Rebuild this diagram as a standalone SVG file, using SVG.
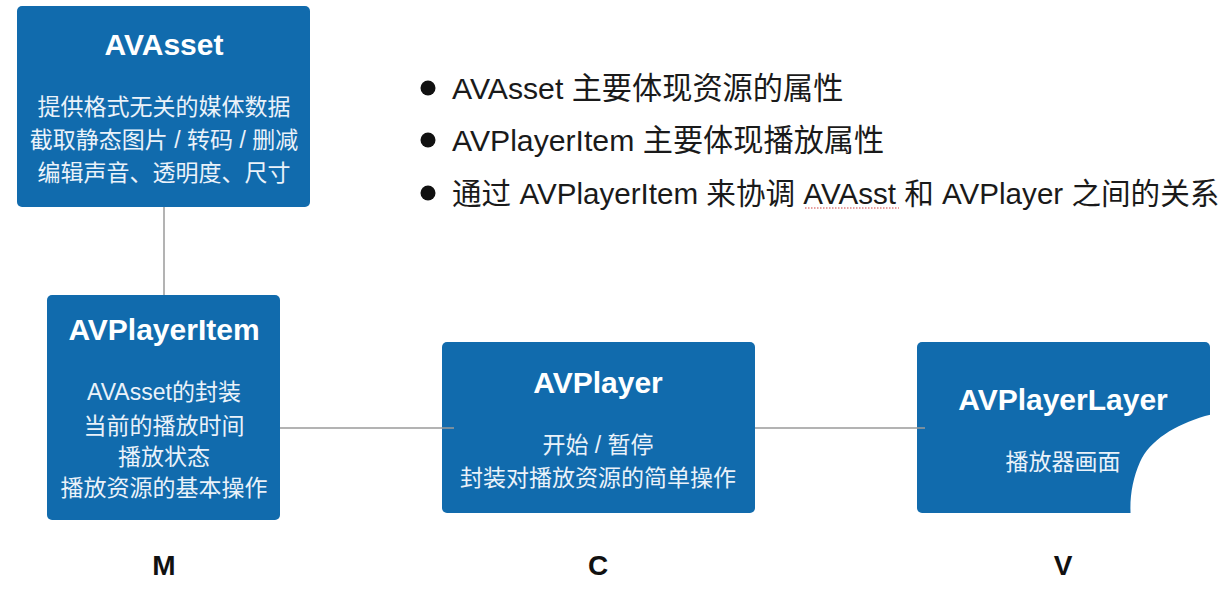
<svg xmlns="http://www.w3.org/2000/svg" width="1222" height="590" viewBox="0 0 1222 590">
<defs>
<style>
.box{fill:#116BAD;}
.title{font-family:"Liberation Sans","Noto Sans CJK SC",sans-serif;font-weight:bold;font-size:30px;fill:#ffffff;text-anchor:middle;}
.desc{font-family:"Liberation Sans","Noto Sans CJK SC",sans-serif;font-size:23px;fill:#EAF2FA;text-anchor:middle;}
.conn{stroke:#9a9a9a;stroke-width:1.5;fill:none;}
.mvc{font-family:"Liberation Sans",sans-serif;font-weight:bold;font-size:28px;fill:#111111;text-anchor:middle;}
.bullet{font-family:"Liberation Sans","Noto Sans CJK SC",sans-serif;font-size:30.2px;fill:#1a1a1a;}
</style>
</defs>
<rect width="1222" height="590" fill="#ffffff"/>

<g id="node-avasset">
<rect class="box" x="17" y="6" width="293" height="201" rx="5"/>
<text class="title" x="164" y="55">AVAsset</text>
<text class="desc" x="164" y="115">提供格式无关的媒体数据</text>
<text class="desc" x="164" y="148">截取静态图片 / 转码 / 删减</text>
<text class="desc" x="164" y="181">编辑声音、透明度、尺寸</text>
</g>

<g id="node-avplayeritem">
<rect class="box" x="47" y="295" width="233" height="225" rx="5"/>
<text class="title" x="164" y="340">AVPlayerItem</text>
<text class="desc" x="164" y="400">AVAsset的封装</text>
<text class="desc" x="164" y="434">当前的播放时间</text>
<text class="desc" x="164" y="465">播放状态</text>
<text class="desc" x="164" y="496">播放资源的基本操作</text>
</g>

<g id="node-avplayer">
<rect class="box" x="442" y="342" width="313" height="171" rx="5"/>
<text class="title" x="598" y="393">AVPlayer</text>
<text class="desc" x="598" y="453">开始 / 暂停</text>
<text class="desc" x="598" y="486">封装对播放资源的简单操作</text>
</g>

<g id="node-avplayerlayer">
<rect class="box" x="917" y="342" width="293" height="171" rx="5"/>
<text class="title" x="1063" y="410">AVPlayerLayer</text>
<text class="desc" x="1063" y="470">播放器画面</text>
</g>

<g id="connectors">
<line class="conn" x1="164" y1="207" x2="164" y2="295"/>
<line class="conn" x1="280" y1="428" x2="454" y2="428"/>
<line class="conn" x1="755" y1="428" x2="925" y2="428"/>
</g>

<g id="labels">
<text class="mvc" x="164" y="575">M</text>
<text class="mvc" x="598" y="575">C</text>
<text class="mvc" x="1063" y="575">V</text>
</g>

<g id="notes">
<circle cx="428" cy="88" r="7.5" fill="#111"/>
<circle cx="428" cy="140" r="7.5" fill="#111"/>
<circle cx="428" cy="193" r="7.5" fill="#111"/>
<text class="bullet" x="452" y="99">AVAsset 主要体现资源的属性</text>
<text class="bullet" x="452" y="151">AVPlayerItem 主要体现播放属性</text>
<text class="bullet" x="452" y="204" style="font-size:29.6px">通过 AVPlayerItem 来协调 AVAsst 和 AVPlayer 之间的关系</text>
<line x1="805" y1="208" x2="899" y2="208" stroke="#d04040" stroke-width="1.2" stroke-dasharray="1.5 1.5"/>
</g>

<path d="M1222 412 L1205 416 C1175 425 1150 440 1140 462 C1132 480 1129 500 1131 520 C1133 545 1136 570 1137 590 L1222 590 Z" fill="#ffffff"/>
</svg>
